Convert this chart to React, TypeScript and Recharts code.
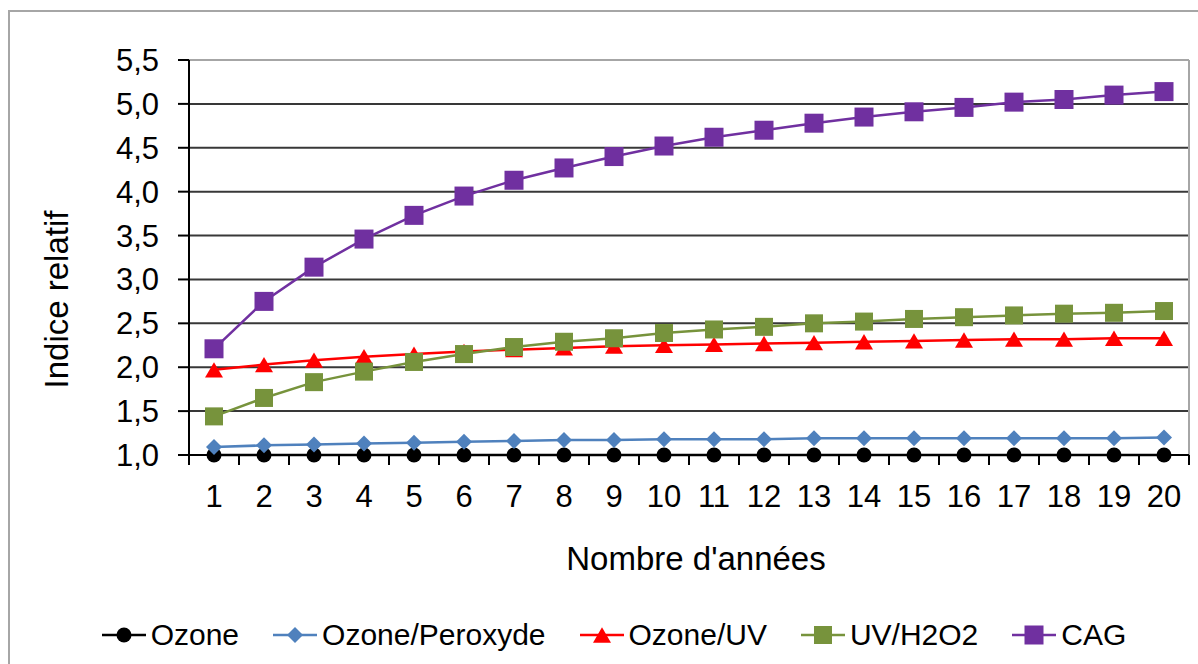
import { LineChart, Line, XAxis, YAxis, CartesianGrid, Legend, ReferenceLine } from "recharts";

const years = [1, 2, 3, 4, 5, 6, 7, 8, 9, 10, 11, 12, 13, 14, 15, 16, 17, 18, 19, 20];
const ozone = [1, 1, 1, 1, 1, 1, 1, 1, 1, 1, 1, 1, 1, 1, 1, 1, 1, 1, 1, 1];
const ozonePeroxyde = [1.09, 1.11, 1.12, 1.13, 1.14, 1.15, 1.16, 1.17, 1.17, 1.18, 1.18, 1.18, 1.19, 1.19, 1.19, 1.19, 1.19, 1.19, 1.19, 1.2];
const ozoneUV = [1.97, 2.03, 2.08, 2.12, 2.15, 2.18, 2.2, 2.22, 2.24, 2.25, 2.26, 2.27, 2.28, 2.29, 2.3, 2.31, 2.32, 2.32, 2.33, 2.33];
const uvH2O2 = [1.44, 1.65, 1.83, 1.95, 2.06, 2.15, 2.23, 2.29, 2.33, 2.39, 2.43, 2.46, 2.5, 2.52, 2.55, 2.57, 2.59, 2.61, 2.62, 2.64];
const cag = [2.21, 2.75, 3.14, 3.46, 3.73, 3.95, 4.13, 4.27, 4.4, 4.52, 4.62, 4.7, 4.78, 4.85, 4.91, 4.96, 5.02, 5.05, 5.1, 5.14];
const yTicks = [1, 1.5, 2, 2.5, 3, 3.5, 4, 4.5, 5, 5.5];

const FONT = '"Liberation Sans", Arial, sans-serif';
const HALF_BAND = 25; // half of one year's slot on the x axis
const X_TICK_GAP = 30;

type Shape = "circle" | "diamond" | "triangle" | "square";

interface Serie { key: string; name: string; color: string; shape: Shape; size: number; width: number }

const SERIES: Serie[] = [
  { key: "ozone", name: "Ozone", color: "#000000", shape: "circle", size: 15, width: 2.5 },
  { key: "peroxyde", name: "Ozone/Peroxyde", color: "#4F81BD", shape: "diamond", size: 16, width: 2.5 },
  { key: "uv", name: "Ozone/UV", color: "#FF0000", shape: "triangle", size: 18, width: 2.5 },
  { key: "h2o2", name: "UV/H2O2", color: "#77933C", shape: "square", size: 18, width: 2.5 },
  { key: "cag", name: "CAG", color: "#7030A0", shape: "square", size: 19, width: 2.5 },
];

const data = years.map((year, i) => ({
  year,
  ozone: ozone[i],
  peroxyde: ozonePeroxyde[i],
  uv: ozoneUV[i],
  h2o2: uvH2O2[i],
  cag: cag[i],
}));

const fmt = (v: number) => v.toFixed(1).replace(".", ",");

function Marker({ cx, cy, shape, color, size }: { cx: number; cy: number; shape: Shape; color: string; size: number }) {
  const h = size / 2;
  if (shape === "circle") return <circle cx={cx} cy={cy} r={h} fill={color} />;
  if (shape === "diamond")
    return <polygon points={`${cx},${cy - h} ${cx + h},${cy} ${cx},${cy + h} ${cx - h},${cy}`} fill={color} />;
  if (shape === "triangle") {
    const th = size * 0.85;
    return <polygon points={`${cx},${cy - th / 2} ${cx + h},${cy + th / 2} ${cx - h},${cy + th / 2}`} fill={color} />;
  }
  return <rect x={cx - h} y={cy - h} width={size} height={size} fill={color} />;
}

function YearTick(props: any) {
  const { x, y, payload, index, visibleTicksCount } = props;
  const top = y - X_TICK_GAP;
  return (
    <g>
      <line x1={x - HALF_BAND} x2={x - HALF_BAND} y1={top} y2={top + 10} stroke="#000" strokeWidth={2} />
      {index === visibleTicksCount - 1 && (
        <line x1={x + HALF_BAND} x2={x + HALF_BAND} y1={top} y2={top + 10} stroke="#000" strokeWidth={2} />
      )}
      <text x={x} y={y} dy="0.71em" textAnchor="middle" fontSize={31} fontFamily={FONT} fill="#000">
        {payload.value}
      </text>
    </g>
  );
}

function YTitle(props: any) {
  const vb = props.viewBox;
  const x = vb.x - 21;
  const y = vb.y + vb.height / 2 + 42;
  return (
    <text x={x} y={y} transform={`rotate(-90 ${x} ${y})`} textAnchor="middle" fontSize={33} fontFamily={FONT} fill="#000">
      Indice relatif
    </text>
  );
}

function LegendContent() {
  return (
    <div style={{ display: "flex", justifyContent: "center", alignItems: "center", gap: 34, paddingLeft: 30, fontFamily: FONT, fontSize: 30, lineHeight: "34px", color: "#000" }}>
      {SERIES.map((s) => (
        <div key={s.key} style={{ display: "flex", alignItems: "center" }}>
          <svg width={44} height={20} style={{ display: "block" }}>
            <line x1={0} x2={44} y1={10} y2={10} stroke={s.color} strokeWidth={s.width} />
            <Marker cx={22} cy={10} shape={s.shape} color={s.color} size={s.size} />
          </svg>
          <span style={{ marginLeft: 5, whiteSpace: "nowrap" }}>{s.name}</span>
        </div>
      ))}
    </div>
  );
}

export default function App() {
  return (
    <div style={{ position: "absolute", left: 0, top: 0, width: 1198, height: 664, overflow: "hidden", background: "#fff" }}>
      <div style={{ position: "absolute", left: 8, top: 10, width: 1300, height: 800, border: "2px solid #a6a6a6" }} />
      <LineChart width={1198} height={664} data={data} margin={{ top: 60, right: 9, left: 89, bottom: 79 }}>
        <CartesianGrid horizontal vertical={false} stroke="#383838" strokeWidth={2} />
        <XAxis
          dataKey="year"
          type="number"
          domain={[0.5, 20.5]}
          ticks={years}
          interval={0}
          tickLine={false}
          tickSize={0}
          tickMargin={X_TICK_GAP}
          height={130}
          axisLine={{ stroke: "#000", strokeWidth: 2 }}
          tick={<YearTick />}
          label={{ value: "Nombre d'années", position: "insideBottom", offset: 15, fontSize: 33, fill: "#000", fontFamily: FONT, dx: 7 }}
        />
        <YAxis
          type="number"
          domain={[1, 5.5]}
          ticks={yTicks}
          interval={0}
          width={100}
          tickSize={11}
          tickMargin={19}
          tickFormatter={fmt}
          axisLine={{ stroke: "#000", strokeWidth: 2 }}
          tickLine={{ stroke: "#000", strokeWidth: 2 }}
          tick={{ fontSize: 31, fill: "#000", fontFamily: FONT }}
          label={{ content: YTitle }}
        />
        <ReferenceLine y={5.5} stroke="#a6a6a6" strokeWidth={2} />
        <ReferenceLine x={20.5} stroke="#a6a6a6" strokeWidth={2} />
        <Legend verticalAlign="middle" align="center" layout="horizontal" content={<LegendContent />} wrapperStyle={{ left: 0, top: 618, width: 1198, height: 34 }} />
        {SERIES.map((s) => (
          <Line
            key={s.key}
            dataKey={s.key}
            name={s.name}
            stroke={s.color}
            strokeWidth={s.width}
            isAnimationActive={false}
            activeDot={false}
            dot={(p: any) => <Marker key={`${s.key}-${p.index}`} cx={p.cx} cy={p.cy} shape={s.shape} color={s.color} size={s.size} />}
          />
        ))}
      </LineChart>
    </div>
  );
}
